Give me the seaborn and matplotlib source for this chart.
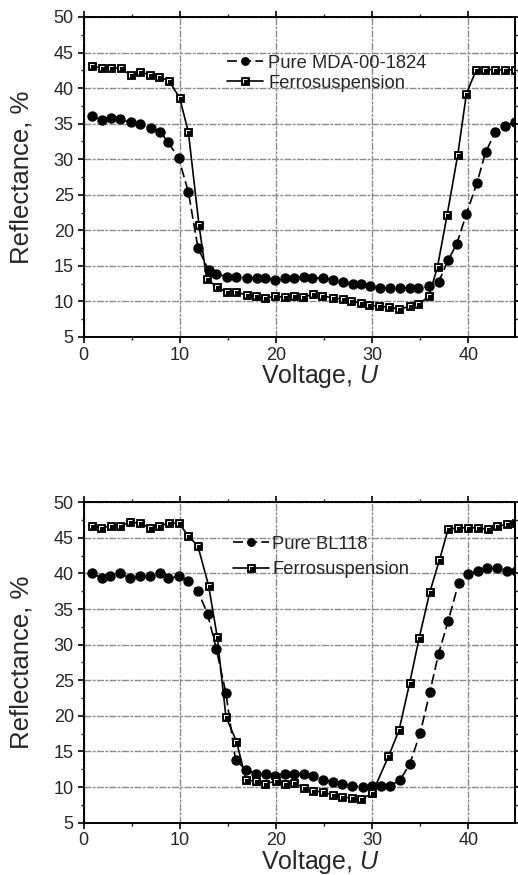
import matplotlib
matplotlib.use('Agg')
import matplotlib.pyplot as plt
import seaborn as sns
from matplotlib.path import Path
from matplotlib.ticker import MultipleLocator
from matplotlib.legend_handler import HandlerTuple

# Top panel: MDA-00-1824
top_pure_x = [0.9, 1.9, 2.9, 3.8, 4.9, 5.9, 7.0, 8.0, 8.8, 9.9, 10.9, 11.9, 13.0, 13.8, 14.9,
              15.9, 17.0, 18.0, 18.9, 19.9, 20.9, 21.9, 22.9, 23.8, 24.9, 25.9, 27.0, 28.0, 28.8,
              29.8, 30.8, 31.9, 32.9, 33.9, 34.8, 35.9, 36.9, 37.9, 38.8, 39.8, 40.9, 41.8, 42.8,
              43.8, 44.8]
top_pure_y = [36.1, 35.5, 35.8, 35.6, 35.2, 35.0, 34.4, 33.8, 32.4, 30.1, 25.4, 17.5, 14.4, 13.8,
              13.5, 13.5, 13.3, 13.3, 13.3, 13.0, 13.3, 13.3, 13.5, 13.3, 13.3, 13.0, 12.7, 12.4,
              12.4, 12.1, 11.9, 11.9, 11.9, 11.9, 11.9, 12.1, 12.7, 15.8, 18.1, 22.3, 26.7, 31.0,
              33.8, 34.7, 35.2]
top_ferro_x = [0.9, 1.9, 2.9, 3.9, 4.9, 5.9, 6.9, 7.8, 8.9, 10.0, 10.9, 12.0, 12.8, 13.9, 14.9,
               15.9, 17.0, 17.9, 18.9, 19.9, 20.9, 21.9, 22.8, 23.9, 24.8, 25.9, 27.0, 27.8, 28.8,
               29.7, 30.7, 31.8, 32.8, 33.9, 34.8, 35.9, 36.8, 37.8, 38.9, 39.8, 40.8, 41.7, 42.8,
               43.8, 44.8]
top_ferro_y = [43.1, 42.8, 42.8, 42.8, 41.8, 42.2, 41.9, 41.6, 41.0, 38.6, 33.8, 20.8, 13.2, 12.0,
               11.3, 11.3, 10.9, 10.7, 10.5, 10.7, 10.6, 10.8, 10.6, 11.0, 10.8, 10.5, 10.3, 10.0,
               9.8, 9.5, 9.3, 9.2, 8.9, 9.3, 9.6, 10.7, 14.9, 22.2, 30.6, 39.2, 42.5, 42.6, 42.6,
               42.5, 42.6]

# Bottom panel: BL118
bot_pure_x = [0.9, 1.9, 2.8, 3.8, 4.8, 5.9, 6.9, 8.0, 8.8, 9.9, 10.9, 11.9, 12.9, 13.8, 14.8,
              15.8, 16.9, 17.9, 19.0, 19.9, 20.9, 21.9, 22.9, 23.9, 24.9, 25.9, 26.9, 27.9, 29.0,
              30.0, 30.9, 31.9, 32.9, 33.9, 35.0, 36.0, 36.9, 37.9, 39.0, 40.0, 41.0, 41.9, 43.0,
              44.0, 45.0]
bot_pure_y = [40.1, 39.3, 39.6, 40.1, 39.3, 39.6, 39.6, 40.1, 39.3, 39.6, 39.0, 37.5, 34.3, 29.4,
              23.2, 13.8, 12.4, 11.9, 11.9, 11.6, 11.9, 11.9, 11.9, 11.5, 11.0, 10.7, 10.4, 10.2,
              10.0, 10.1, 10.1, 10.2, 11.0, 13.2, 17.6, 23.3, 28.7, 33.3, 38.7, 39.9, 40.4, 40.7,
              40.7, 40.4, 40.4]
bot_ferro_x = [0.9, 1.8, 2.9, 3.8, 4.85, 5.9, 6.9, 7.8, 8.9, 9.9, 10.9, 11.9, 13.0, 13.9, 14.8,
               15.9, 16.9, 17.9, 18.9, 20.0, 20.9, 21.9, 22.9, 23.9, 24.9, 25.9, 26.9, 27.9, 28.85,
               30.0, 31.7, 32.8, 33.9, 34.9, 36.0, 37.0, 37.9, 38.9, 40.0, 41.0, 42.0, 43.0, 44.0,
               45.0]
bot_ferro_y = [46.7, 46.4, 46.7, 46.7, 47.2, 47.05, 46.4, 46.7, 47.05, 47.05, 45.3, 43.8, 38.3,
               31.1, 19.9, 16.4, 11.0, 10.8, 10.5, 10.8, 10.4, 10.6, 9.9, 9.45, 9.3, 8.9, 8.65,
               8.4, 8.3, 9.1, 14.3, 18.0, 24.6, 31.0, 37.4, 41.9, 46.2, 46.4, 46.4, 46.4, 46.2,
               46.6, 46.9, 47.05]

sns.set_style('ticks')
plt.rcParams['font.family'] = ['Liberation Sans', 'DejaVu Sans']
plt.rcParams['mathtext.fontset'] = 'custom'
plt.rcParams['mathtext.it'] = 'Liberation Sans:italic'
plt.rcParams['mathtext.rm'] = 'Liberation Sans'

gamma = Path([(-1, -1), (-1, 1), (1, 1)], [Path.MOVETO, Path.LINETO, Path.LINETO])
grid_style = (0, (5, 1, 2, 1))

fig = plt.figure(figsize=(5.18, 8.75), dpi=100)
ax1 = fig.add_axes([0.1612, 0.6149, 0.833, 0.3657])
ax2 = fig.add_axes([0.1612, 0.0598, 0.833, 0.3662])


def draw_panel(ax, px, py, fx, fy, pure_label, leg_anchor, leg_spacing, text_pad):
    ax.grid(True, which='major', color='#8c8c8c', linestyle=grid_style, linewidth=1.0)
    ax.set_axisbelow(True)
    sns.lineplot(x=px, y=py, ax=ax, color='black', marker='o', markersize=7.5,
                 markeredgewidth=0, linewidth=1.2, linestyle=(0, (6, 2.5)), label=pure_label)
    sns.lineplot(x=fx, y=fy, ax=ax, color='black', marker='s', markersize=6.2,
                 markeredgecolor='black', markeredgewidth=0.6, linewidth=1.2,
                 label='Ferrosuspension')
    ov, = ax.plot(fx, fy, marker=gamma, linestyle='none', markersize=3.2,
                  markerfacecolor='none', markeredgecolor='white', markeredgewidth=0.7)
    lines = ax.get_lines()
    h_pure, h_ferro = lines[0], lines[1]
    ax.legend([h_pure, (h_ferro, ov)], [pure_label, 'Ferrosuspension'],
              handler_map={tuple: HandlerTuple(ndivide=1)},
              loc='upper left', bbox_to_anchor=leg_anchor, frameon=False,
              fontsize=13.2, handlelength=2.0, handletextpad=text_pad,
              labelspacing=leg_spacing, borderaxespad=0, borderpad=0, markerscale=0.85)

    ax.set_xlim(0, 44.85)
    ax.set_ylim(5, 50)
    ax.xaxis.set_major_locator(MultipleLocator(10))
    ax.xaxis.set_minor_locator(MultipleLocator(5))
    ax.yaxis.set_major_locator(MultipleLocator(5))
    ax.yaxis.set_minor_locator(MultipleLocator(2.5))
    ax.tick_params(axis='both', which='major', labelsize=13, direction='out',
                   length=4, width=1.2, pad=3, color='black')
    ax.tick_params(axis='both', which='minor', direction='out', length=2.5, width=1.0)
    ax.tick_params(axis='x', which='both', top=True)
    ax.tick_params(axis='y', which='both', right=True)
    for s in ax.spines.values():
        s.set_visible(True)
        s.set_linewidth(1.4)
        s.set_color('black')

    ax.set_xlabel('Voltage, $U$', fontsize=18)
    ax.set_ylabel('Reflectance, %', fontsize=18.5)
    ax.xaxis.set_label_coords(0.548, -0.079)
    ax.yaxis.set_label_coords(-0.117, 0.5)


draw_panel(ax1, top_pure_x, top_pure_y, top_ferro_x, top_ferro_y, 'Pure MDA-00-1824',
           (0.332, 0.882), 0.16, 0.25)
draw_panel(ax2, bot_pure_x, bot_pure_y, bot_ferro_x, bot_ferro_y, 'Pure BL118',
           (0.346, 0.895), 0.45, 0.15)

fig.savefig('out.png', dpi=100)
